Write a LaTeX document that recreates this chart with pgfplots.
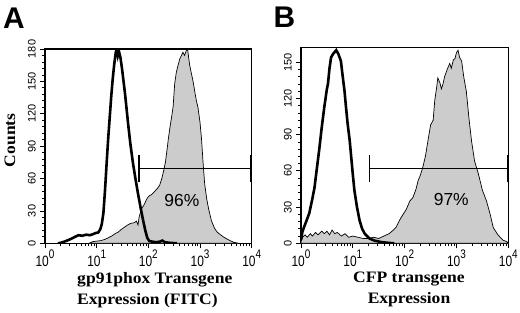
\documentclass[border=0pt]{standalone}
\usepackage{fontspec}
\usepackage{pgfplots}
\usepackage{pgfplotstable}
\pgfplotsset{compat=1.18}
\setmainfont{Liberation Serif}
\newfontfamily\lsans{Liberation Sans}
\newfontfamily\lsansx[FakeStretch=0.8]{Liberation Sans}
\newfontfamily\labfont[FakeStretch=1.1]{Liberation Serif}
\newcommand{\xt}[1]{{\lsansx\fontsize{15}{15}\selectfont 10\raisebox{8.5bp}{\fontsize{12.5}{12.5}\selectfont #1}}}

\pgfplotstableread{
x y
0.25 0
0.31 0.5
0.40 2
0.50 4
0.58 6
0.65 7.5
0.72 7
0.80 8
0.87 7.5
0.93 8.5
0.98 9.5
1.03 10
1.07 13
1.10 18
1.13 28
1.16 48
1.19 72
1.22 95
1.25 115
1.28 135
1.31 152
1.34 166
1.37 177
1.39 180
1.41 174
1.43 178
1.46 172
1.49 162
1.52 150
1.55 138
1.58 124
1.61 110
1.65 93
1.70 75
1.75 60
1.80 46
1.85 33
1.90 21
1.94 12
1.98 5
2.02 2
2.08 1.5
2.15 1
2.22 1.5
2.27 2.5
2.32 1
2.40 0.5
2.55 0
}\blackA

\pgfplotstableread{
x y
0.85 0
0.92 1.5
1.00 2
1.08 2.5
1.15 3.5
1.22 5
1.30 7
1.36 9
1.42 10.5
1.48 13
1.54 15
1.60 17
1.66 18.5
1.72 19
1.77 20.5
1.80 17
1.82 24
1.85 29
1.88 33
1.91 35
1.94 38
1.98 42
2.02 44
2.06 45
2.10 47
2.14 49
2.18 51
2.22 54
2.26 60
2.30 68
2.33 75
2.36 86
2.39 98
2.42 108
2.45 117
2.48 127
2.51 148
2.54 158
2.57 164
2.61 171
2.64 174
2.67 177
2.70 174
2.73 178
2.76 180
2.78 172
2.80 165
2.83 158
2.87 149
2.90 140
2.93 132
2.96 126
3.00 112
3.03 96
3.06 74
3.09 55
3.13 41
3.17 31
3.22 21
3.28 14
3.33 10.5
3.38 8.5
3.45 6
3.52 4
3.58 2.5
3.65 1
3.75 0
}\greyA

\pgfplotstableread{
x y
0.00 3
0.03 10
0.064 14
0.10 18
0.16 25
0.21 35
0.26 46
0.30 60
0.35 77
0.40 96
0.45 113
0.50 128
0.52 132
0.55 145
0.58 154
0.62 157
0.68 160
0.72 157
0.77 151
0.80 140
0.84 126
0.87 112
0.90 99
0.94 85
0.97 71
1.00 57
1.03 44
1.08 30
1.13 19
1.18 12
1.23 8
1.32 4
1.42 2.2
1.55 1
1.70 0.3
1.80 0
}\blackB

\pgfplotstableread{
x y
0.00 1
0.03 5
0.08 7
0.12 5
0.18 8
0.22 6
0.28 9
0.33 7
0.40 10
0.45 8
0.50 10
0.55 7
0.60 11
0.65 8
0.70 9
0.78 6
0.85 8
0.92 5
1.00 6
1.10 5
1.20 4
1.30 4
1.40 5
1.50 4
1.60 6
1.70 8
1.77 10.5
1.83 13
1.90 19
1.97 24
2.03 28
2.10 35
2.16 38
2.22 45
2.26 52
2.30 56
2.35 63
2.40 72
2.45 85
2.50 98
2.55 102
2.58 118
2.62 130
2.64 137
2.68 133
2.71 128
2.74 132
2.77 138
2.82 144
2.87 149
2.90 145
2.94 152
2.97 153
3.00 158
3.03 160
3.06 154
3.10 151
3.14 138
3.19 126
3.24 104
3.29 85
3.35 68
3.42 58
3.50 44
3.58 35
3.65 24
3.71 13
3.80 7
3.90 2.5
3.97 1.5
4.00 0
}\greyB

\pgfplotsset{
  hist/.style={
    scale only axis,
    anchor=south west,
    xmin=0, xmax=4, ymin=0,
    axis line style={line width=1.2bp},
    tick pos=left,
    tick align=outside,
    major tick length=5bp,
    minor tick length=3bp,
    every tick/.style={black, line width=0.8bp},
    xtick={0,1,2,3,4},
    xticklabels={\xt{0},\xt{1},\xt{2},\xt{3},\xt{4}},
    minor xtick={0.301,0.477,0.602,0.699,0.778,0.845,0.903,0.954,
                 1.301,1.477,1.602,1.699,1.778,1.845,1.903,1.954,
                 2.301,2.477,2.602,2.699,2.778,2.845,2.903,2.954,
                 3.301,3.477,3.602,3.699,3.778,3.845,3.903,3.954},
    minor y tick num=4,
    /pgf/number format/assume math mode=true,
    yticklabel style={font=\lsans\fontsize{11}{11}\selectfont, xshift=-3bp, rotate=90, anchor=south, inner sep=1bp},
    xticklabel style={inner sep=1bp},
    label style={font=\labfont\bfseries\fontsize{16}{21.5}\selectfont},
    clip=true,
  }
}

\begin{document}
\begin{tikzpicture}
\useasboundingbox (0,0) rectangle (520bp,313bp);

\begin{axis}[hist,
  at={(45bp,69.7bp)}, width=206.7bp, height=194.3bp,
  ymax=180,
  ytick={0,30,60,90,120,150,180},
  xlabel={gp91phox Transgene\\Expression (FITC)},
  xlabel style={at={(axis description cs:0.155,0)}, anchor=north west, align=left, inner sep=0pt, yshift=-28.5bp},
  ylabel={Counts},
  ylabel style={at={(axis description cs:-0.17,0.53)}, anchor=center, inner sep=0pt},
]
\addplot[draw=black, line width=0.7bp, fill=gray!40] table[x=x,y=y] {\greyA} \closedcycle;
\addplot[black, line width=2.6bp] table[x=x,y=y] {\blackA};
\addplot[black, line width=1bp] coordinates {(1.82,69.4) (3.98,69.4)};
\addplot[black, line width=1.3bp] coordinates {(1.82,57) (1.82,82)};
\addplot[black, line width=1.3bp] coordinates {(3.98,57) (3.98,82)};
\node[font=\lsans\fontsize{17.5}{17.5}\selectfont] at (axis cs:2.65,40) {96\%};
\end{axis}

\begin{axis}[hist,
  at={(301bp,69.7bp)}, width=207.3bp, height=196bp,
  ymax=162.4,
  ytick={0,30,60,90,120,150},
  xlabel={CFP transgene\\Expression},
  xlabel style={at={(axis description cs:0.521,0)}, anchor=north, align=center, inner sep=0pt, yshift=-28.5bp},
]
\addplot[draw=black, line width=0.7bp, fill=gray!40] table[x=x,y=y] {\greyB} \closedcycle;
\addplot[black, line width=2.6bp] table[x=x,y=y] {\blackB};
\addplot[black, line width=1bp] coordinates {(1.32,62.3) (3.98,62.3)};
\addplot[black, line width=1.3bp] coordinates {(1.32,51) (1.32,73.3)};
\addplot[black, line width=1.3bp] coordinates {(3.98,51) (3.98,73.3)};
\node[font=\lsans\fontsize{17.5}{17.5}\selectfont] at (axis cs:2.90,36) {97\%};
\end{axis}

\node[font=\lsans\bfseries\fontsize{30}{30}\selectfont, inner sep=0pt] at (14bp,295bp) {A};
\node[font=\lsans\bfseries\fontsize{30}{30}\selectfont, inner sep=0pt] at (284.5bp,295.5bp) {B};
\end{tikzpicture}
\end{document}
